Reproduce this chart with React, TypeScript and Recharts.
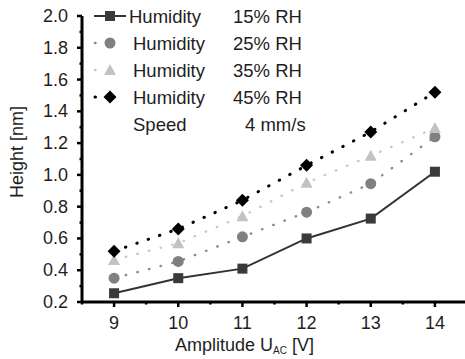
import React from "react";
import { LineChart, Line, XAxis, YAxis } from "recharts";

// Amplitude U_AC [V]
const amplitudes = [9, 10, 11, 12, 13, 14];

// Height [nm] per humidity level
const rh15 = [0.255, 0.35, 0.41, 0.6, 0.725, 1.02];
const rh25 = [0.35, 0.455, 0.61, 0.765, 0.945, 1.24];
const rh35 = [0.465, 0.57, 0.74, 0.95, 1.12, 1.295];
const rh45 = [0.52, 0.66, 0.84, 1.06, 1.27, 1.52];

const yTicks = [0.2, 0.4, 0.6, 0.8, 1.0, 1.2, 1.4, 1.6, 1.8, 2.0];
const yMinor = [0.3, 0.5, 0.7, 0.9, 1.1, 1.3, 1.5, 1.7, 1.9];
const xTicks = [9, 10, 11, 12, 13, 14];
const xMinor = [8.5, 9.5, 10.5, 11.5, 12.5, 13.5, 14.5];

type Shape = "square" | "circle" | "triangle" | "diamond";

const series: {
  key: string;
  label: string;
  color: string;
  line: string;
  dash?: string;
  width: number;
  shape: Shape;
}[] = [
  { key: "rh15", label: "15% RH", color: "#3a3a3a", line: "#333333", width: 2, shape: "square" },
  { key: "rh25", label: "25% RH", color: "#808080", line: "#8a8a8a", dash: "0.5 11.5", width: 2.4, shape: "circle" },
  { key: "rh35", label: "35% RH", color: "#c2c2c2", line: "#c8c8c8", dash: "0.5 11.5", width: 2.4, shape: "triangle" },
  { key: "rh45", label: "45% RH", color: "#000000", line: "#000000", dash: "0.5 11.5", width: 3, shape: "diamond" },
];

const data = amplitudes.map((a, i) => ({
  amp: a,
  rh15: rh15[i],
  rh25: rh25[i],
  rh35: rh35[i],
  rh45: rh45[i],
}));

const FONT = "'Liberation Sans', Arial, sans-serif";
const TEXT = "#1e1e1e";
const AXIS_X = 82; // y axis line
const AXIS_Y = 302; // x axis line

const Marker = ({ shape, cx, cy, color }: { shape: Shape; cx: number; cy: number; color: string }) => {
  if (shape === "square") return <rect x={cx - 5} y={cy - 5} width={10} height={10} fill={color} />;
  if (shape === "circle") return <circle cx={cx} cy={cy} r={5.5} fill={color} />;
  if (shape === "triangle")
    return <polygon points={`${cx},${cy - 6} ${cx + 6},${cy + 5} ${cx - 6},${cy + 5}`} fill={color} />;
  return <polygon points={`${cx},${cy - 6.5} ${cx + 6.5},${cy} ${cx},${cy + 6.5} ${cx - 6.5},${cy}`} fill={color} />;
};

const YTick = (props: any) => {
  const v = props.payload.value;
  const major = yTicks.some((t) => Math.abs(t - v) < 1e-6);
  const y = props.y;
  return (
    <g>
      <line x1={AXIS_X - (major ? 5 : 2.5)} x2={AXIS_X} y1={y} y2={y} stroke="#000" strokeWidth={2.5} />
      {major && (
        <text x={68} y={y} dy={6} textAnchor="end" fontSize={18} fontFamily={FONT} fill={TEXT}>
          {v.toFixed(1)}
        </text>
      )}
    </g>
  );
};

const XTick = (props: any) => {
  const v = props.payload.value;
  const major = xTicks.includes(v);
  const x = props.x;
  return (
    <g>
      <line x1={x} x2={x} y1={AXIS_Y} y2={AXIS_Y + (major ? 5 : 2.5)} stroke="#000" strokeWidth={2.5} />
      {major && (
        <text x={x} y={329} textAnchor="middle" fontSize={18} fontFamily={FONT} fill={TEXT}>
          {v}
        </text>
      )}
    </g>
  );
};

const Legend = () => (
  <svg
    width={465}
    height={359}
    style={{ position: "absolute", left: 0, top: 0, pointerEvents: "none" }}
    fontFamily={FONT}
    fill={TEXT}
  >
    {series.map((s, i) => {
      const y = 16 + i * 27;
      return (
        <g key={s.key}>
          <line
            x1={s.dash ? 95 : 94}
            x2={s.dash ? 126 : 126}
            y1={y}
            y2={y}
            stroke={s.line}
            strokeWidth={s.width}
            strokeLinecap={s.dash ? "round" : "butt"}
            strokeDasharray={s.dash ? "0.5 30.5" : undefined}
          />
          <Marker shape={s.shape} cx={110} cy={y} color={s.color} />
          <text x={i === 0 ? 129 : 133} y={y + 6.5} fontSize={18.5}>
            Humidity
          </text>
          <text x={233} y={y + 6.5} fontSize={18.5}>
            {s.label}
          </text>
        </g>
      );
    })}
    <text x={133} y={124 + 6.5} fontSize={18.5}>
      Speed
    </text>
    <text x={245} y={124 + 6.5} fontSize={18.5}>
      4 mm/s
    </text>
    <text x={175} y={351} fontSize={18}>
      Amplitude U<tspan fontSize={10} dy={3}>AC</tspan>
      <tspan dy={-3}> [V]</tspan>
    </text>
    <text x={23} y={152} fontSize={18} textAnchor="middle" transform="rotate(-90 23 152)">
      Height [nm]
    </text>
  </svg>
);

export default function App() {
  return (
    <div
      style={{
        position: "absolute",
        left: 0,
        top: 0,
        width: 465,
        height: 359,
        overflow: "hidden",
        background: "#fff",
      }}
    >
      <LineChart width={470} height={359} data={data} margin={{ top: 16, right: 3, left: 0, bottom: 0 }}>
        <XAxis
          dataKey="amp"
          type="number"
          domain={[8.5, 14.5]}
          ticks={[...xTicks, ...xMinor].sort((a, b) => a - b)}
          tick={<XTick />}
          tickLine={false}
          axisLine={{ stroke: "#000", strokeWidth: 3 }}
          height={57}
          interval={0}
        />
        <YAxis
          type="number"
          domain={[0.2, 2.0]}
          ticks={[...yTicks, ...yMinor].sort((a, b) => a - b)}
          tick={<YTick />}
          tickLine={false}
          axisLine={{ stroke: "#000", strokeWidth: 3 }}
          width={82}
          interval={0}
          allowDataOverflow
        />
        {series.map((s) => (
          <Line
            key={s.key}
            dataKey={s.key}
            type="linear"
            stroke={s.line}
            strokeWidth={s.width}
            strokeDasharray={s.dash}
            strokeLinecap={s.dash ? "round" : "butt"}
            dot={(p: any) => (
              <Marker key={`${s.key}-${p.index}`} shape={s.shape} cx={p.cx} cy={p.cy} color={s.color} />
            )}
            isAnimationActive={false}
          />
        ))}
      </LineChart>
      <Legend />
    </div>
  );
}
